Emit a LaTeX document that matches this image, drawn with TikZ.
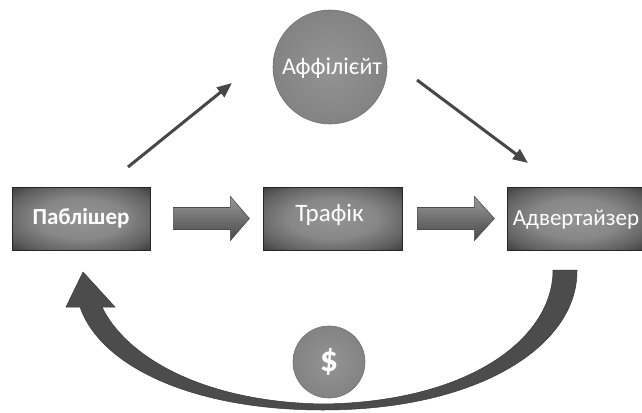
\documentclass[tikz,border=0pt]{standalone}
\usepackage{fontspec}
\setmainfont{Carlito}
\usetikzlibrary{arrows.meta,calc}
\pgfdeclareradialshading{vignette}{\pgfpoint{0bp}{0bp}}{color(0bp)=(black!42); color(16bp)=(black!47); color(28bp)=(black!62); color(40bp)=(black!84); color(50bp)=(black!95)}
\pgfdeclareradialshading{sphere}{\pgfpoint{0bp}{0bp}}{color(0bp)=(black!42); color(30bp)=(black!50); color(44bp)=(black!64); color(50bp)=(black!78)}
\begin{document}
\begin{tikzpicture}[x=1pt,y=-1pt,
  box/.style={rectangle, minimum height=63pt, inner sep=0pt, draw=black!85, line width=0.8pt,
     shading=vignette},
  ball/.style={circle, inner sep=0pt, draw=black!55, line width=0.6pt, shading=sphere},
  lbl/.style={text=white, font=\fontsize{24}{26}\selectfont},
  blockarrow/.style={draw=black!70, line width=0.6pt,
     top color=black!40, middle color=black!28, bottom color=black!72},
  thin/.style={draw=black!72, line width=3pt, -{Triangle[length=15pt,width=12pt]}},
  curvearrow/.style={fill=black!70, draw=black!78, line width=0.5pt}
]
\useasboundingbox (0,0) rectangle (642,412);

% boxes
\node[box, minimum width=138pt] (pub) at (81,218.5) {};
\node[box, minimum width=139pt] (traf) at (332.5,218.5) {};
\node[box, minimum width=138pt] (adv) at (576,218.5) {};
\node[lbl, font=\fontsize{23}{25}\selectfont\bfseries] (publbl) at (pub.center) {Паблішер};
\node[lbl, font=\fontsize{25}{27}\selectfont] (traflbl) at ($(traf.center)+(-3,-4)$) {Трафік};
\node[lbl, font=\fontsize{23}{25}\selectfont, inner sep=0pt] (advlbl) at ($(adv.center)+(0,1)$) {Адвертайзер};

% circles
\node[ball, minimum size=114pt] (aff) at (330,67) {};
\node[lbl] (afflbl) at ($(aff.center)+(2,1)$) {Аффілієйт};
\node[ball, minimum size=72pt] (dol) at (329,362) {};
\node[lbl, font=\fontsize{36}{38}\selectfont\bfseries] (dollbl) at (dol.center) {\$};

% block arrows
\coordinate (b1) at ($(pub.east)+(23,0)$);
\coordinate (b2) at ($(traf.east)+(15,0)$);
\path[blockarrow] (b1) ++(0,-11) -- ++(57,0) -- ++(0,-11) -- ++(19,22) -- ++(-19,22)
   -- ++(0,-11) -- ++(-57,0) -- cycle;
\path[blockarrow] (b2) ++(0,-11) -- ++(57,0) -- ++(0,-11) -- ++(20,22) -- ++(-20,22)
   -- ++(0,-11) -- ++(-57,0) -- cycle;

% thin arrows
\coordinate (p1) at (128,167);
\coordinate (a1) at (232,83);
\coordinate (a2) at (417,80);
\coordinate (d1) at (528,163);
\draw[thin] (p1) -- (a1);
\draw[thin] (a2) -- (d1);

% curved return arrow
\path[curvearrow] (553,270) -- (577,270)
  .. controls (578,345) and (480,410) .. (323,410)
  .. controls (190,410) and (100,365) .. (80,307)
  -- (66,307) -- (83,272) -- (115,307) -- (102,307)
  .. controls (125,355) and (200,402) .. (323,404)
  .. controls (470,402) and (553,338) .. (553,270) -- cycle;
\end{tikzpicture}
\end{document}
